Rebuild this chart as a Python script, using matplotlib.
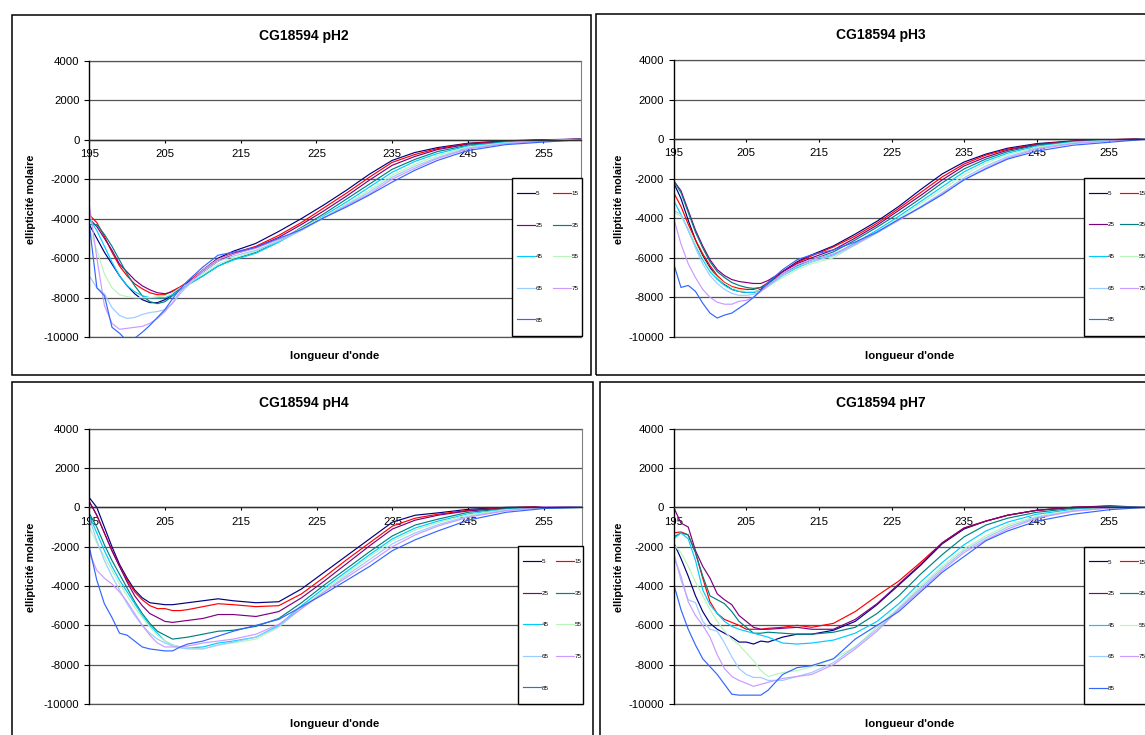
import matplotlib
matplotlib.use("Agg")
import matplotlib.pyplot as plt
from matplotlib.patches import Rectangle

plt.rcParams['font.family'] = ['Liberation Sans', 'DejaVu Sans']
plt.rcParams['axes.unicode_minus'] = False

# ---------------- data ----------------
wavelength = [195, 196, 197, 198, 199, 200, 201, 202, 203, 204, 205, 206, 207, 208,
              210, 212, 214, 217, 220, 223, 226, 229, 232, 235, 238, 241, 245, 250, 255, 260]
temp_labels = ['5', '15', '25', '35', '45', '55', '65', '75', '85']
colors = ['#000080', '#FF0000', '#800080', '#008080', '#00CCFF',
          '#B8F5B8', '#99CCFF', '#CC99FF', '#3366FF']
x_ticks = [195, 205, 215, 225, 235, 245, 255]
y_ticks = [-10000, -8000, -6000, -4000, -2000, 0, 2000, 4000]
titles = ['CG18594 pH2', 'CG18594 pH3', 'CG18594 pH4', 'CG18594 pH7']
x_label = "longueur d'onde"
y_label = "ellipticité molaire"

# pH2
ph2_t5 = [-4300, -5000, -5700, -6300, -6900, -7400, -7800, -8100, -8250, -8250, -8100, -7850, -7500, -7250, -6600, -6000, -5650, -5250, -4650, -4000, -3300, -2550, -1750, -1050, -650, -400, -180, -60, 0, 30]
ph2_t15 = [-3800, -4200, -4900, -5700, -6400, -6900, -7300, -7550, -7750, -7850, -7850, -7650, -7450, -7200, -6600, -6050, -5750, -5400, -4850, -4200, -3450, -2700, -1900, -1150, -750, -450, -200, -80, -10, 20]
ph2_t25 = [-4000, -4400, -5000, -5600, -6300, -6700, -7100, -7400, -7600, -7750, -7800, -7700, -7500, -7250, -6700, -6150, -5800, -5450, -4950, -4300, -3600, -2850, -2050, -1300, -850, -500, -230, -90, -20, 30]
ph2_t35 = [-4300, -4300, -4800, -5400, -6100, -6800, -7400, -7900, -8200, -8300, -8200, -7900, -7600, -7350, -6900, -6400, -6050, -5700, -5150, -4450, -3750, -3000, -2250, -1500, -1000, -600, -280, -110, -30, 20]
ph2_t45 = [-4000, -4600, -5400, -6200, -6900, -7400, -7700, -7900, -8000, -8000, -8000, -7850, -7600, -7350, -6900, -6400, -6100, -5750, -5200, -4550, -3850, -3150, -2400, -1650, -1100, -700, -320, -130, -40, 10]
ph2_t55 = [-4500, -5600, -6800, -7500, -7850, -7950, -8000, -8000, -8000, -7950, -7900, -7750, -7500, -7300, -6800, -6300, -6000, -5650, -5100, -4500, -3900, -3250, -2550, -1800, -1250, -800, -380, -160, -50, 0]
ph2_t65 = [-6900, -7500, -7800, -8500, -8900, -9050, -9000, -8850, -8750, -8700, -8600, -8300, -7800, -7400, -6700, -6150, -5900, -5600, -5150, -4600, -3950, -3300, -2650, -1900, -1350, -900, -420, -180, -60, 0]
ph2_t75 = [-3300, -6000, -8400, -9300, -9600, -9550, -9500, -9450, -9300, -9050, -8700, -8250, -7700, -7300, -6600, -6050, -5800, -5500, -5050, -4550, -3950, -3350, -2750, -2000, -1450, -950, -470, -200, -70, 0]
ph2_t85 = [-4300, -7500, -7900, -9500, -9800, -10200, -10050, -9750, -9400, -9000, -8600, -8050, -7550, -7150, -6450, -5850, -5700, -5450, -5000, -4550, -3950, -3400, -2800, -2150, -1550, -1050, -550, -250, -120, 0]

# pH3
ph3_t5 = [-2200, -3000, -4100, -5100, -5900, -6500, -7000, -7350, -7600, -7700, -7750, -7750, -7600, -7300, -6700, -6200, -5850, -5400, -4800, -4150, -3400, -2550, -1750, -1150, -750, -450, -220, -80, -20, 20]
ph3_t15 = [-2700, -3400, -4300, -5100, -5800, -6400, -6900, -7250, -7450, -7550, -7600, -7600, -7500, -7250, -6700, -6250, -5900, -5450, -4900, -4250, -3500, -2700, -1900, -1250, -800, -500, -250, -100, -20, 20]
ph3_t25 = [-2100, -2600, -3600, -4600, -5400, -6100, -6600, -6900, -7100, -7200, -7250, -7300, -7300, -7150, -6700, -6300, -6000, -5600, -5000, -4350, -3600, -2850, -2050, -1350, -900, -550, -270, -110, -30, 10]
ph3_t35 = [-2100, -2700, -3700, -4700, -5500, -6200, -6700, -7000, -7250, -7400, -7500, -7550, -7500, -7300, -6800, -6400, -6100, -5700, -5100, -4450, -3750, -3000, -2200, -1500, -1000, -620, -300, -120, -40, 10]
ph3_t45 = [-3100, -3800, -4600, -5400, -6100, -6700, -7100, -7400, -7600, -7700, -7750, -7750, -7650, -7400, -6900, -6500, -6200, -5850, -5250, -4600, -3900, -3150, -2400, -1650, -1100, -700, -350, -140, -50, 0]
ph3_t55 = [-3700, -3900, -4500, -5300, -6000, -6600, -7000, -7300, -7500, -7650, -7700, -7700, -7650, -7450, -7000, -6600, -6300, -6000, -5350, -4700, -4000, -3250, -2550, -1800, -1200, -780, -400, -160, -60, 0]
ph3_t65 = [-3600, -3800, -4600, -5500, -6300, -6900, -7300, -7600, -7800, -7900, -7900, -7850, -7700, -7450, -6900, -6450, -6200, -5900, -5350, -4750, -4100, -3400, -2700, -1950, -1350, -880, -450, -190, -70, 0]
ph3_t75 = [-4000, -5300, -6300, -7000, -7600, -8000, -8250, -8350, -8350, -8200, -8150, -8000, -7700, -7400, -6800, -6350, -6100, -5800, -5300, -4700, -4100, -3450, -2750, -2050, -1450, -950, -500, -220, -80, 0]
ph3_t85 = [-6300, -7500, -7400, -7700, -8300, -8800, -9050, -8900, -8800, -8550, -8300, -8000, -7650, -7250, -6600, -6100, -5850, -5600, -5200, -4700, -4050, -3450, -2800, -2050, -1500, -1000, -600, -300, -150, 0]

# pH4
ph4_t5 = [500, 0, -1000, -2000, -2900, -3600, -4200, -4600, -4850, -4900, -4950, -4950, -4900, -4850, -4750, -4650, -4750, -4850, -4800, -4150, -3300, -2450, -1600, -750, -400, -280, -100, 0, 30, 20]
ph4_t15 = [300, -400, -1300, -2200, -3000, -3700, -4300, -4700, -5000, -5150, -5150, -5250, -5250, -5200, -5050, -4900, -4950, -5050, -5000, -4400, -3550, -2650, -1800, -950, -550, -350, -150, -20, 30, 20]
ph4_t25 = [300, -400, -1300, -2200, -3000, -3800, -4500, -5000, -5400, -5600, -5800, -5850, -5800, -5750, -5650, -5450, -5450, -5550, -5300, -4600, -3750, -2850, -1950, -1100, -650, -400, -180, -40, 20, 20]
ph4_t35 = [-300, -1000, -1900, -2700, -3400, -4100, -4800, -5400, -5900, -6300, -6500, -6700, -6650, -6600, -6450, -6300, -6250, -6050, -5650, -4850, -3950, -3100, -2250, -1450, -900, -600, -250, -60, 0, 10]
ph4_t45 = [-400, -1300, -2200, -3000, -3700, -4300, -4900, -5500, -6000, -6400, -6800, -7000, -7100, -7150, -7100, -6900, -6800, -6600, -6000, -5000, -4100, -3250, -2400, -1600, -1050, -700, -330, -100, -20, 0]
ph4_t55 = [-1000, -1800, -2500, -3200, -3900, -4500, -5100, -5600, -6100, -6500, -6800, -7000, -7100, -7150, -7200, -7000, -6900, -6700, -6100, -5100, -4200, -3350, -2500, -1700, -1150, -780, -380, -120, -30, 0]
ph4_t65 = [-500, -1700, -2700, -3500, -4200, -4900, -5500, -6000, -6400, -6700, -6900, -7050, -7150, -7200, -7200, -7000, -6850, -6600, -6050, -5150, -4300, -3450, -2650, -1850, -1300, -880, -450, -150, -40, 0]
ph4_t75 = [-2300, -3200, -3600, -3900, -4300, -4800, -5400, -6000, -6500, -6900, -7100, -7100, -7100, -7050, -6900, -6800, -6700, -6450, -5950, -5150, -4300, -3550, -2800, -2000, -1400, -950, -500, -170, 40, 0]
ph4_t85 = [-2000, -3700, -4900, -5600, -6400, -6500, -6800, -7100, -7200, -7250, -7300, -7300, -7100, -6950, -6800, -6550, -6300, -6000, -5700, -5050, -4400, -3700, -3000, -2200, -1650, -1200, -650, -250, -60, 0]

# pH7
ph7_t5 = [-1800, -2600, -3500, -4500, -5300, -5900, -6200, -6400, -6600, -6850, -6850, -6950, -6800, -6850, -6600, -6450, -6450, -6250, -5800, -4950, -3950, -2950, -1850, -1100, -700, -400, -150, 0, 50, 0]
ph7_t15 = [-1300, -1250, -1400, -2300, -3600, -4800, -5400, -5700, -5850, -6000, -6200, -6200, -6200, -6150, -6100, -6000, -6100, -5900, -5300, -4500, -3750, -2800, -1800, -1050, -700, -400, -150, 0, 80, 0]
ph7_t25 = [0, -800, -1000, -2200, -3000, -3600, -4400, -4700, -4950, -5500, -5800, -6100, -6200, -6200, -6150, -6100, -6200, -6200, -5700, -4900, -3900, -2900, -1800, -1050, -700, -400, -150, 0, 60, 0]
ph7_t35 = [-1500, -1300, -1400, -2300, -3500, -4500, -4700, -4900, -5300, -5800, -6100, -6400, -6400, -6350, -6400, -6450, -6450, -6350, -6100, -5400, -4500, -3400, -2400, -1500, -900, -550, -250, -50, 20, 0]
ph7_t45 = [-1600, -1300, -1600, -2700, -4200, -4950, -5400, -5800, -6050, -6200, -6300, -6400, -6500, -6600, -6900, -6950, -6900, -6750, -6400, -5800, -4900, -3800, -2800, -1900, -1200, -750, -350, -100, 0, 0]
ph7_t55 = [-1900, -2300, -3000, -3800, -4500, -5200, -5800, -6300, -6700, -7000, -7400, -7800, -8300, -8600, -8400, -8300, -8100, -7700, -7100, -6100, -5100, -4000, -3000, -2100, -1450, -900, -450, -150, -20, 0]
ph7_t65 = [-2300, -3700, -4700, -4850, -5800, -6200, -6300, -6900, -7600, -8200, -8500, -8650, -8650, -8800, -8800, -8600, -8400, -7900, -7100, -6200, -5150, -4100, -3100, -2200, -1550, -1000, -500, -180, -30, 0]
ph7_t75 = [-2500, -3500, -4800, -5500, -6000, -6600, -7500, -8200, -8600, -8800, -8950, -9100, -9000, -8900, -8700, -8600, -8500, -8000, -7200, -6300, -5200, -4200, -3200, -2300, -1650, -1100, -550, -200, -30, 0]
ph7_t85 = [-3900, -5200, -6200, -7000, -7700, -8100, -8500, -9000, -9500, -9550, -9550, -9550, -9550, -9300, -8500, -8150, -8050, -7700, -6700, -6000, -5300, -4300, -3300, -2500, -1700, -1200, -700, -350, -120, 0]

ph2_series = [ph2_t5, ph2_t15, ph2_t25, ph2_t35, ph2_t45, ph2_t55, ph2_t65, ph2_t75, ph2_t85]
ph3_series = [ph3_t5, ph3_t15, ph3_t25, ph3_t35, ph3_t45, ph3_t55, ph3_t65, ph3_t75, ph3_t85]
ph4_series = [ph4_t5, ph4_t15, ph4_t25, ph4_t35, ph4_t45, ph4_t55, ph4_t65, ph4_t75, ph4_t85]
ph7_series = [ph7_t5, ph7_t15, ph7_t25, ph7_t35, ph7_t45, ph7_t55, ph7_t65, ph7_t75, ph7_t85]

# ---------------- layout (pixels) ----------------
W, H = 1145, 735
fig = plt.figure(figsize=(W / 100, H / 100), dpi=100)


def fx(px):
    return px / W


def fy(py):
    return 1 - py / H


panels = [
    dict(series=ph2_series, frame=(12, 15, 591, 375), axes=(89.3, 60.7, 581.3, 337.2),
         leg=(512.3, 178.3, 582, 335.7), colsp=1.55, title_xy=(304, 35.7), ylab_xy=(31.4, 199), xlab_xy=(335, 356)),
    dict(series=ph3_series, frame=(596, 14, 1165, 375), axes=(673.7, 60.3, 1145.6, 336.8),
         leg=(1084, 178, 1154, 335.7), colsp=0.85, title_xy=(881, 34.5), ylab_xy=(619, 199), xlab_xy=(910, 356)),
    dict(series=ph4_series, frame=(12, 382, 593, 750), axes=(89.2, 428.7, 582, 704),
         leg=(518, 546.3, 583, 704), colsp=1.1, title_xy=(304, 403.3), ylab_xy=(31.4, 567), xlab_xy=(335, 724)),
    dict(series=ph7_series, frame=(600, 382, 1165, 750), axes=(673.7, 428.7, 1145.6, 704),
         leg=(1084, 546.7, 1154, 704), colsp=0.85, title_xy=(881, 402.5), ylab_xy=(619.5, 567), xlab_xy=(910, 724)),
]

order = [0, 2, 4, 6, 8, 1, 3, 5, 7]

for p, title in zip(panels, titles):
    # panel frame
    fx0, fy0, fx1, fy1 = p['frame']
    fig.patches.append(Rectangle((fx(fx0), fy(fy1)), (fx1 - fx0) / W, (fy1 - fy0) / H,
                                 transform=fig.transFigure, fill=False, edgecolor='black',
                                 lw=1.1, zorder=1))
    x0, y0, x1, y1 = p['axes']
    ax = fig.add_axes([fx(x0), fy(y1), (x1 - x0) / W, (y1 - y0) / H])
    lines = []
    for vals, lab, col in zip(p['series'], temp_labels, colors):
        ln, = ax.plot(wavelength, vals, color=col, lw=0.85, label=lab)
        lines.append(ln)
    ax.set_xlim(195, 260)
    ax.set_ylim(-10000, 4000)
    ax.set_xticks(x_ticks)
    ax.set_xticklabels([str(t) for t in x_ticks])
    ax.set_yticks(y_ticks)
    ax.set_yticklabels([str(t) for t in y_ticks])
    ax.spines['bottom'].set_position(('data', 0))
    ax.spines['bottom'].set_color('#303030')
    ax.spines['bottom'].set_linewidth(1.0)
    ax.spines['top'].set_visible(False)
    ax.spines['right'].set_color('#808080')
    ax.spines['right'].set_linewidth(0.8)
    ax.spines['left'].set_color('black')
    ax.spines['left'].set_linewidth(1.0)
    ax.grid(axis='y', color='#555555', lw=0.9)
    ax.axhline(-10000, color='#555555', lw=0.9, clip_on=False, zorder=0.5)
    ax.axhline(4000, color='#555555', lw=0.9, clip_on=False, zorder=0.5)
    ax.set_axisbelow(True)
    ax.tick_params(axis='y', direction='out', length=3.6, width=0.8, pad=3.4, labelsize=8.2)
    ax.tick_params(axis='x', direction='out', length=2.4, width=0.8, pad=4.2, labelsize=8.2)

    # legend box + entries
    lx0, ly0, lx1, ly1 = p['leg']
    fig.patches.append(Rectangle((fx(lx0), fy(ly1)), (lx1 - lx0) / W, (ly1 - ly0) / H,
                                 transform=fig.transFigure, facecolor='white', edgecolor='black',
                                 lw=1.0, zorder=3))
    fig.legend([lines[i] for i in order], [temp_labels[i] for i in order], ncol=2,
               loc='upper left', bbox_to_anchor=(fx(lx0 + 5), fy(ly0 + 12.5)),
               bbox_transform=fig.transFigure, frameon=False, fontsize=4.5,
               handlelength=2.9, handletextpad=0.1, columnspacing=p['colsp'],
               labelspacing=4.2, borderpad=0, borderaxespad=0)

    fig.text(fx(p['title_xy'][0]), fy(p['title_xy'][1]), title, ha='center', va='center',
             fontsize=10, fontweight='bold')
    fig.text(fx(p['ylab_xy'][0]), fy(p['ylab_xy'][1]), y_label, ha='center', va='center',
             rotation=90, fontsize=7.8, fontweight='bold')
    fig.text(fx(p['xlab_xy'][0]), fy(p['xlab_xy'][1]), x_label, ha='center', va='center',
             fontsize=8.2, fontweight='bold')

fig.savefig('out.png', dpi=100)
